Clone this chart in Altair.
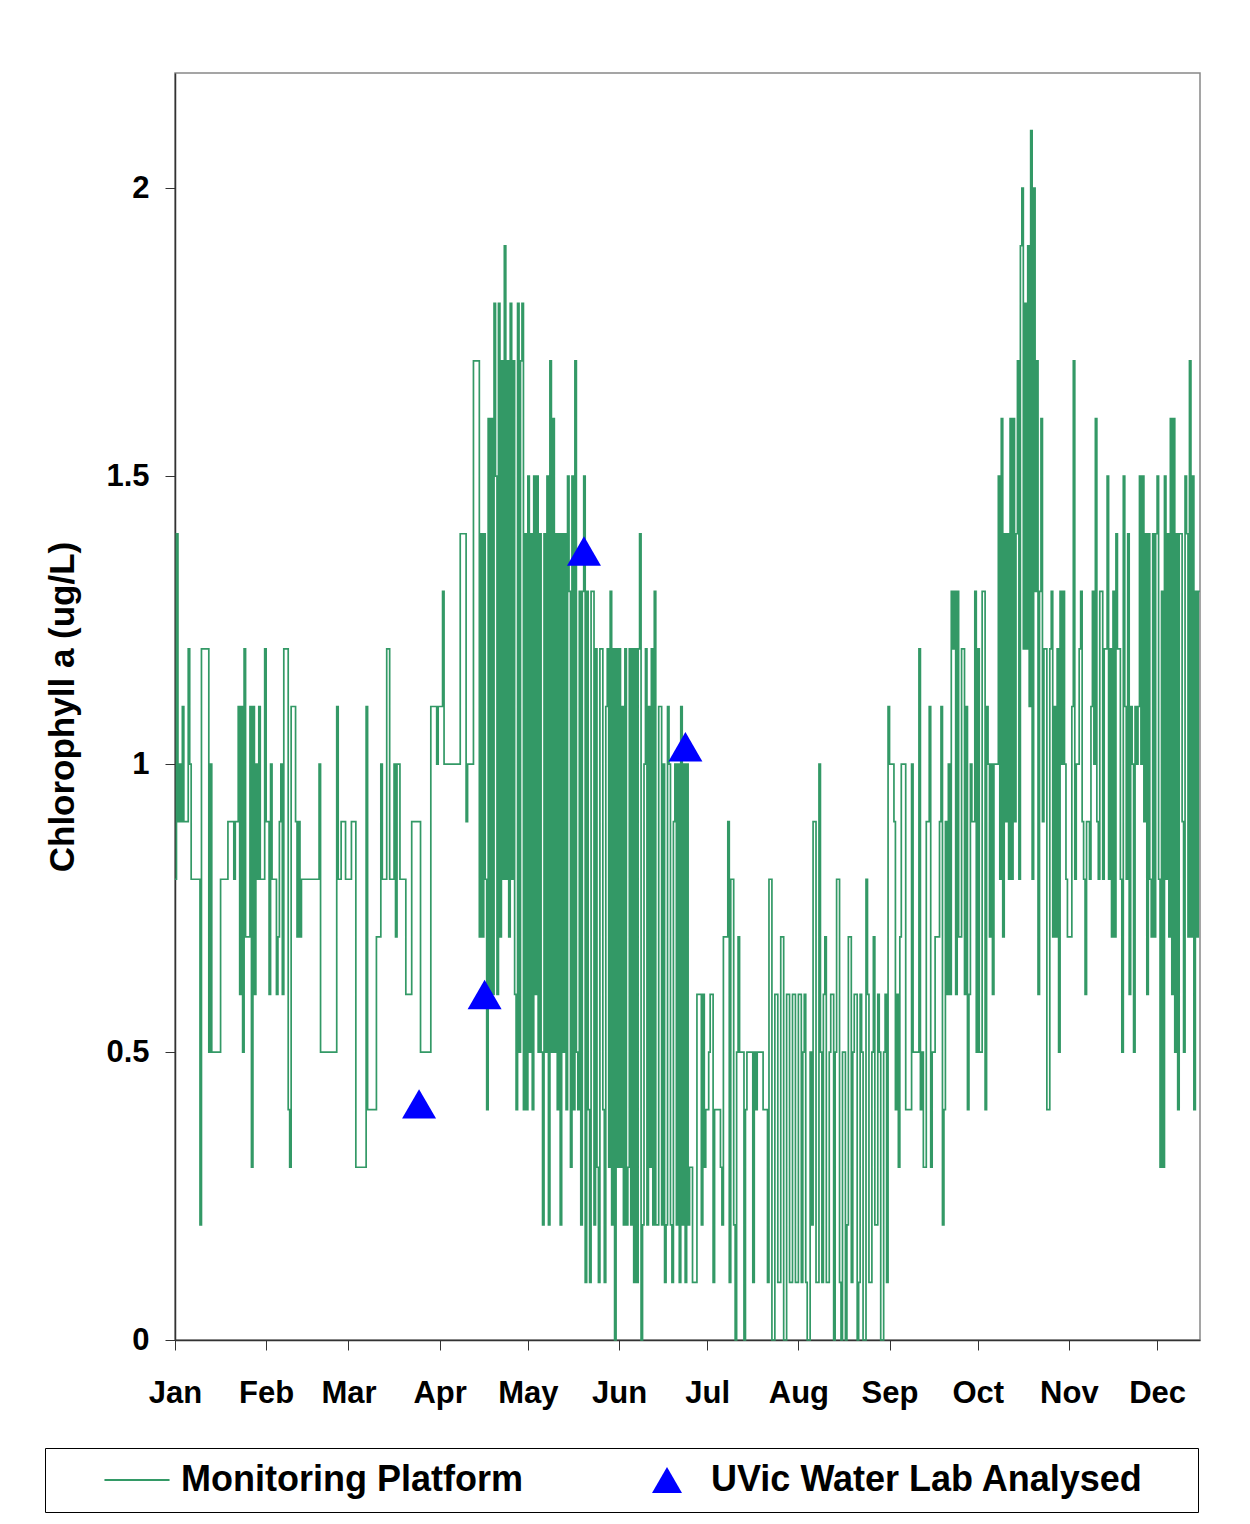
import altair as alt
import pandas as pd

# Chlorophyll a readings from the monitoring platform, two readings per day (00h, 12h)
jan = [0.8, 1.4, 0.9, 1.0, 0.9, 1.1, 0.9, 0.9, 0.9, 1.2, 1.0, 0.8, 0.8, 0.8, 0.8, 0.8,
       0.8, 0.2, 1.2, 1.2, 1.2, 1.2, 1.2, 0.5, 1.0, 0.5, 0.5, 0.5, 0.5, 0.5, 0.5, 0.8,
       0.8, 0.8, 0.8, 0.8, 0.9, 0.9, 0.9, 0.9, 0.8, 0.9, 0.9, 1.1, 0.6, 1.1, 0.5, 1.2,
       0.7, 0.7, 0.7, 1.1, 0.3, 1.1, 0.6, 1.0, 0.8, 1.1, 0.8, 0.8, 0.8, 1.2]
feb = [0.9, 0.9, 0.6, 1.0, 0.8, 0.8, 0.8, 0.6, 0.7, 0.9, 1.0, 0.6, 1.2, 1.2, 1.2, 0.4,
       0.3, 1.1, 1.1, 1.1, 0.9, 0.7, 0.9, 0.7, 0.8, 0.8, 0.8, 0.8, 0.8, 0.8, 0.8, 0.8,
       0.8, 0.8, 0.8, 0.8, 1.0, 0.5, 0.5, 0.5, 0.5, 0.5, 0.5, 0.5, 0.5, 0.5, 0.5, 0.5,
       1.1, 0.8, 0.8, 0.9, 0.9, 0.9, 0.8, 0.8]
mar = [0.8, 0.8, 0.9, 0.9, 0.9, 0.3, 0.3, 0.3, 0.3, 0.3, 0.3, 0.3, 1.1, 0.4, 0.4, 0.4,
       0.4, 0.4, 0.4, 0.7, 0.7, 0.7, 1.0, 0.8, 0.8, 0.8, 1.2, 1.2, 0.8, 0.8, 0.8, 1.0,
       0.7, 1.0, 1.0, 0.8, 0.8, 0.8, 0.8, 0.6, 0.6, 0.6, 0.6, 0.9, 0.9, 0.9, 0.9, 0.9,
       0.9, 0.5, 0.5, 0.5, 0.5, 0.5, 0.5, 0.5, 1.1, 1.1, 1.1, 1.1, 1.0, 1.1]
apr = [1.1, 1.1, 1.3, 1.0, 1.0, 1.0, 1.0, 1.0, 1.0, 1.0, 1.0, 1.0, 1.0, 1.0, 1.4, 1.4,
       1.4, 1.4, 0.9, 1.0, 1.0, 1.0, 1.0, 1.7, 1.7, 1.7, 1.7, 0.7, 1.4, 0.7, 1.4, 0.8,
       0.4, 1.6, 0.6, 1.6, 0.6, 1.8, 1.5, 0.6, 1.8, 0.7, 1.7, 0.8, 1.9, 0.8, 1.7, 0.7,
       1.8, 0.8, 1.7, 0.6, 0.4, 1.8, 0.5, 1.7, 1.8, 0.4, 1.4, 0.4]
may = [1.5, 0.5, 1.4, 0.4, 1.5, 0.6, 1.5, 0.5, 1.4, 0.5, 0.2, 1.4, 0.5, 1.5, 0.2, 1.7,
       0.5, 1.6, 0.5, 1.4, 0.4, 1.4, 0.2, 1.4, 0.5, 1.4, 0.4, 1.5, 1.3, 0.3, 1.5, 0.4,
       1.7, 0.5, 0.4, 1.3, 0.2, 1.3, 1.5, 0.1, 1.3, 0.4, 0.1, 1.3, 1.3, 0.2, 1.2, 0.3,
       0.1, 1.2, 1.2, 0.4, 0.1, 1.1, 1.2, 0.3, 1.3, 0.2, 1.2, 0.0, 1.2, 0.3]
jun = [1.2, 0.3, 1.1, 0.2, 1.2, 0.2, 0.3, 1.2, 0.2, 1.2, 0.1, 1.2, 0.1, 1.2, 1.4, 0.0,
       0.2, 1.0, 1.2, 0.2, 1.1, 0.3, 1.2, 0.2, 1.3, 0.2, 0.2, 1.1, 1.1, 0.2, 1.0, 0.1,
       0.2, 1.1, 1.0, 0.2, 0.1, 0.9, 1.0, 0.2, 1.0, 0.1, 1.1, 0.2, 1.0, 0.1, 1.0, 0.2,
       0.3, 0.3, 0.1, 0.1, 0.1, 0.6, 0.6, 0.6, 0.2, 0.6, 0.3, 0.4]
jul = [0.4, 0.5, 0.6, 0.6, 0.1, 0.4, 0.4, 0.4, 0.4, 0.3, 0.2, 0.7, 0.7, 0.7, 0.9, 0.1,
       0.8, 0.8, 0.2, 0.0, 0.5, 0.7, 0.5, 0.5, 0.5, 0.0, 0.4, 0.5, 0.5, 0.5, 0.5, 0.1,
       0.5, 0.4, 0.5, 0.5, 0.5, 0.5, 0.4, 0.4, 0.4, 0.1, 0.8, 0.8, 0.0, 0.0, 0.6, 0.6,
       0.1, 0.1, 0.7, 0.7, 0.0, 0.0, 0.6, 0.6, 0.1, 0.1, 0.6, 0.6, 0.1, 0.1]
aug = [0.6, 0.6, 0.1, 0.5, 0.6, 0.1, 0.0, 0.0, 0.5, 0.2, 0.9, 0.9, 0.1, 0.1, 1.0, 0.5,
       0.1, 0.6, 0.7, 0.1, 0.1, 0.5, 0.6, 0.6, 0.0, 0.5, 0.8, 0.8, 0.1, 0.0, 0.5, 0.5,
       0.0, 0.2, 0.7, 0.7, 0.1, 0.5, 0.6, 0.6, 0.0, 0.1, 0.6, 0.5, 0.0, 0.0, 0.8, 0.6,
       0.1, 0.1, 0.5, 0.7, 0.2, 0.2, 0.6, 0.5, 0.0, 0.0, 0.5, 0.6, 0.1, 1.1]
sep = [1.0, 1.0, 1.0, 0.9, 0.4, 0.6, 0.3, 0.7, 1.0, 1.0, 1.0, 0.4, 0.4, 0.4, 0.4, 1.0,
       0.5, 0.5, 0.5, 0.5, 1.2, 0.4, 0.5, 0.3, 0.3, 0.9, 0.9, 1.1, 0.3, 0.5, 0.5, 0.7,
       0.7, 0.7, 0.9, 1.1, 0.2, 0.4, 0.9, 0.6, 1.0, 0.6, 1.3, 1.2, 1.3, 0.6, 1.3, 0.7,
       0.7, 1.2, 1.2, 0.6, 1.1, 0.4, 0.6, 1.0, 0.9, 0.9, 1.3, 0.5]
oct = [1.2, 0.5, 0.5, 1.3, 1.3, 0.4, 1.1, 1.0, 0.7, 1.0, 0.6, 1.0, 1.0, 1.0, 1.5, 0.8,
       1.6, 0.7, 1.4, 0.9, 1.4, 0.8, 1.6, 0.8, 1.6, 0.9, 1.4, 1.7, 0.8, 1.9, 2.0, 1.2,
       1.8, 1.2, 1.9, 1.1, 2.1, 0.8, 2.0, 1.3, 1.7, 0.6, 1.3, 1.6, 0.9, 1.2, 1.2, 0.4,
       0.4, 1.2, 1.3, 0.7, 1.1, 0.7, 1.2, 0.5, 1.3, 1.0, 1.3, 1.0, 0.8, 0.7]
nov = [0.7, 0.7, 1.1, 1.7, 0.8, 1.0, 1.0, 1.2, 1.3, 0.9, 0.8, 0.6, 0.9, 0.9, 0.8, 1.1,
       1.3, 1.0, 1.6, 0.9, 0.8, 1.3, 1.3, 0.8, 1.2, 1.2, 1.5, 0.8, 1.2, 0.7, 1.3, 0.7,
       1.4, 1.2, 1.2, 0.8, 0.5, 1.5, 1.1, 0.8, 1.4, 0.6, 1.1, 1.0, 0.5, 1.1, 1.0, 1.1,
       1.5, 1.0, 1.5, 0.9, 1.4, 0.6, 1.4, 0.8, 0.7, 1.4, 0.7, 1.4]
dec = [1.5, 0.8, 0.3, 1.3, 0.3, 1.5, 0.8, 1.4, 0.7, 1.6, 0.6, 1.6, 0.5, 1.4, 0.4, 1.4,
       1.4, 0.9, 0.5, 1.5, 1.4, 0.7, 1.7, 0.7, 1.5, 0.4, 1.3, 0.7, 1.3, 1.3]

# UVic Water Lab samples
lab_dates = ["2007-03-25T00:00:00Z", "2007-04-16T07:00:00Z",
             "2007-05-20T02:00:00Z", "2007-06-23T14:00:00Z"]
lab_chl = [0.41, 0.60, 1.37, 1.03]

series_names = ["Monitoring Platform", "UVic Water Lab Analysed"]
month_names = ["Jan", "Feb", "Mar", "Apr", "May", "Jun",
               "Jul", "Aug", "Sep", "Oct", "Nov", "Dec"]
y_ticks = [0, 0.5, 1, 1.5, 2]

platform = jan + feb + mar + apr + may + jun + jul + aug + sep + oct + nov + dec
times = pd.date_range("2007-01-01", periods=len(platform), freq="12h")
line_df = pd.DataFrame({
    "date": [t.strftime("%Y-%m-%dT%H:%M:%SZ") for t in times],
    "chl": platform,
})
pt_df = pd.DataFrame({
    "date": lab_dates,
    "chl": lab_chl,
    "series": [series_names[1]] * len(lab_dates),
})

FONT = "Liberation Sans"
GREEN = "#339966"
BLUE = "#0000ff"
LINE_SYMBOL = "M-2.17,-0.06L2.17,-0.06L2.17,0.06L-2.17,0.06Z"
PAD_TAIL = "\u00a0" * 4 + "\u200b"

month_js = "[" + ",".join("'%s'" % m for m in month_names) + "]"

x_enc = alt.X(
    "date:T",
    title=None,
    scale=alt.Scale(
        type="utc",
        domain=[alt.DateTime(year=2007, month=1, date=1, utc=True),
                alt.DateTime(year=2007, month=12, date=15, hours=14, utc=True)],
    ),
    axis=alt.Axis(
        values=[alt.DateTime(year=2007, month=m, date=1, utc=True) for m in range(1, 13)],
        labelExpr=month_js + "[utcmonth(datum.value)]",
        labelFontSize=31,
        labelFontWeight="bold",
        labelBaseline="alphabetic",
        labelPadding=52,
        labelFlush=False,
        labelOverlap=False,
        tickSize=10,
        grid=False,
    ),
)
y_enc = alt.Y(
    "chl:Q",
    scale=alt.Scale(domain=[0, 2.2], nice=False),
    axis=alt.Axis(
        values=y_ticks,
        format=".1~f",
        labelFontSize=31,
        labelFontWeight="bold",
        labelPadding=16,
        tickSize=10,
        grid=False,
        title="Chlorophyll a (ug/L)",
        titleFontSize=35,
        titleFontWeight="bold",
        titleX=-102,
        titleY=633.5,
        titleAlign="center",
        titleBaseline="alphabetic",
    ),
)

legend = alt.Legend(
    title=None,
    orient="none",
    legendX=-130,
    legendY=1375,
    direction="horizontal",
    columns=2,
    columnPadding=66,
    symbolSize=900,
    symbolOffset=60,
    symbolStrokeWidth=0,
    symbolOpacity=1,
    labelOffset=26,
    labelFont=FONT,
    labelFontSize=36,
    labelFontWeight="bold",
    labelColor="black",
    labelLimit=800,
    labelExpr="datum.label == 'UVic Water Lab Analysed' ? datum.label + '" + PAD_TAIL + "' : datum.label",
    strokeColor="black",
    fillColor="white",
    padding=14,
)

line = alt.Chart(line_df).mark_line(
    interpolate="step-after", color=GREEN, strokeWidth=1.7
).encode(x=x_enc, y=y_enc)

points = alt.Chart(pt_df).mark_point(filled=True, size=1156, opacity=1).encode(
    x=x_enc,
    y=y_enc,
    color=alt.Color("series:N", scale=alt.Scale(domain=series_names, range=[GREEN, BLUE]), legend=legend),
    shape=alt.Shape("series:N", scale=alt.Scale(domain=series_names, range=[LINE_SYMBOL, "triangle-up"]), legend=legend),
)

chart = alt.layer(line, points).properties(
    width=1025,
    height=1267,
    autosize=alt.AutoSizeParams(type="none"),
    padding={"left": 175, "top": 73, "right": 50, "bottom": 184},
).configure_view(
    stroke="#888888", strokeWidth=1.5
).configure_axis(
    labelFont=FONT, titleFont=FONT, labelColor="black", titleColor="black",
    domainColor="#333333", tickColor="#333333", domainWidth=1.5,
)

chart.save("out.html", embed_options={"renderer": "svg", "actions": False})
